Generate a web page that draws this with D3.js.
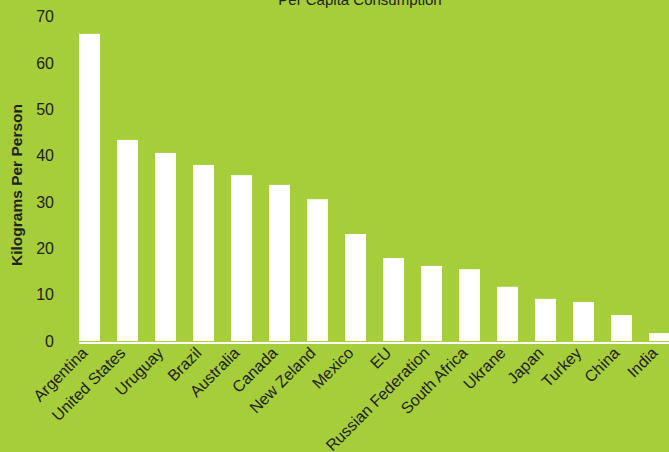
<!DOCTYPE html>
<html>
<head>
<meta charset="utf-8">
<script src="https://cdn.jsdelivr.net/npm/d3@7"></script>
<style>
  body { margin: 0; background: #a6cd3a; }
  svg { display: block; font-family: "Liberation Sans", Arial, sans-serif; }
</style>
</head>
<body>
<svg id="chart" width="669" height="452"></svg>
<script>
// data
let countries = ['Argentina', 'United States', 'Uruguay', 'Brazil', 'Australia', 'Canada',
	'New Zeland', 'Mexico', 'EU', 'Russian Federation', 'South Africa', 'Ukrane',
	'Japan', 'Turkey', 'China', 'India'];
let kgPerPerson = [66.3, 43.4, 40.6, 38.0, 35.8, 33.7, 30.6, 23.1, 17.9, 16.2, 15.5, 11.7, 9.1, 8.4, 5.6, 1.7];
let yTicks = [0, 10, 20, 30, 40, 50, 60, 70];

let svg = d3.select('#chart');
let width = 669, height = 452;

svg.append('rect')
	.attr('width', width)
	.attr('height', height)
	.attr('fill', '#a6cd3a');

let x = d3.scaleBand()
	.domain(countries)
	.range([70.5, 678.5])
	.paddingInner(17 / 38)
	.paddingOuter(17 / 76);

let y = d3.scaleLinear()
	.domain([0, 70])
	.range([341, 16.7]);

// bars
svg.append('g')
	.selectAll('rect')
	.data(countries)
	.join('rect')
	.attr('x', d => x(d))
	.attr('width', x.bandwidth())
	.attr('y', (d, i) => y(kgPerPerson[i]))
	.attr('height', (d, i) => y(0) - y(kgPerPerson[i]))
	.attr('fill', 'white');

// baseline
svg.append('line')
	.attr('x1', x(countries[0]))
	.attr('x2', width)
	.attr('y1', y(0) + 2)
	.attr('y2', y(0) + 2)
	.attr('stroke', 'white')
	.attr('stroke-width', 2);

// y axis (labels only)
let yAxis = svg.append('g')
	.attr('transform', 'translate(54,0)')
	.call(d3.axisLeft(y).tickValues(yTicks).tickSize(0).tickPadding(0));
yAxis.select('.domain').remove();
yAxis.selectAll('text')
	.attr('font-size', 16)
	.attr('font-family', '"Liberation Sans", Arial, sans-serif')
	.attr('fill', '#222');

// x labels, rotated
svg.append('g')
	.selectAll('text')
	.data(countries)
	.join('text')
	.attr('transform', d => `translate(${x(d) + x.bandwidth() / 2 - 1},354) rotate(-45)`)
	.attr('text-anchor', 'end')
	.attr('font-size', 16)
	.attr('fill', '#222')
	.text(d => d);

// y axis title
svg.append('text')
	.attr('transform', 'translate(22,185) rotate(-90)')
	.attr('text-anchor', 'middle')
	.attr('font-size', 15.5)
	.attr('font-weight', 'bold')
	.attr('fill', '#222')
	.text('Kilograms Per Person');

// title, cut off at the top like the original
svg.append('text')
	.attr('x', 360)
	.attr('y', 5)
	.attr('text-anchor', 'middle')
	.attr('font-size', 15)
	.attr('fill', '#222')
	.text('Per Capita Consumption');
</script>
</body>
</html>
